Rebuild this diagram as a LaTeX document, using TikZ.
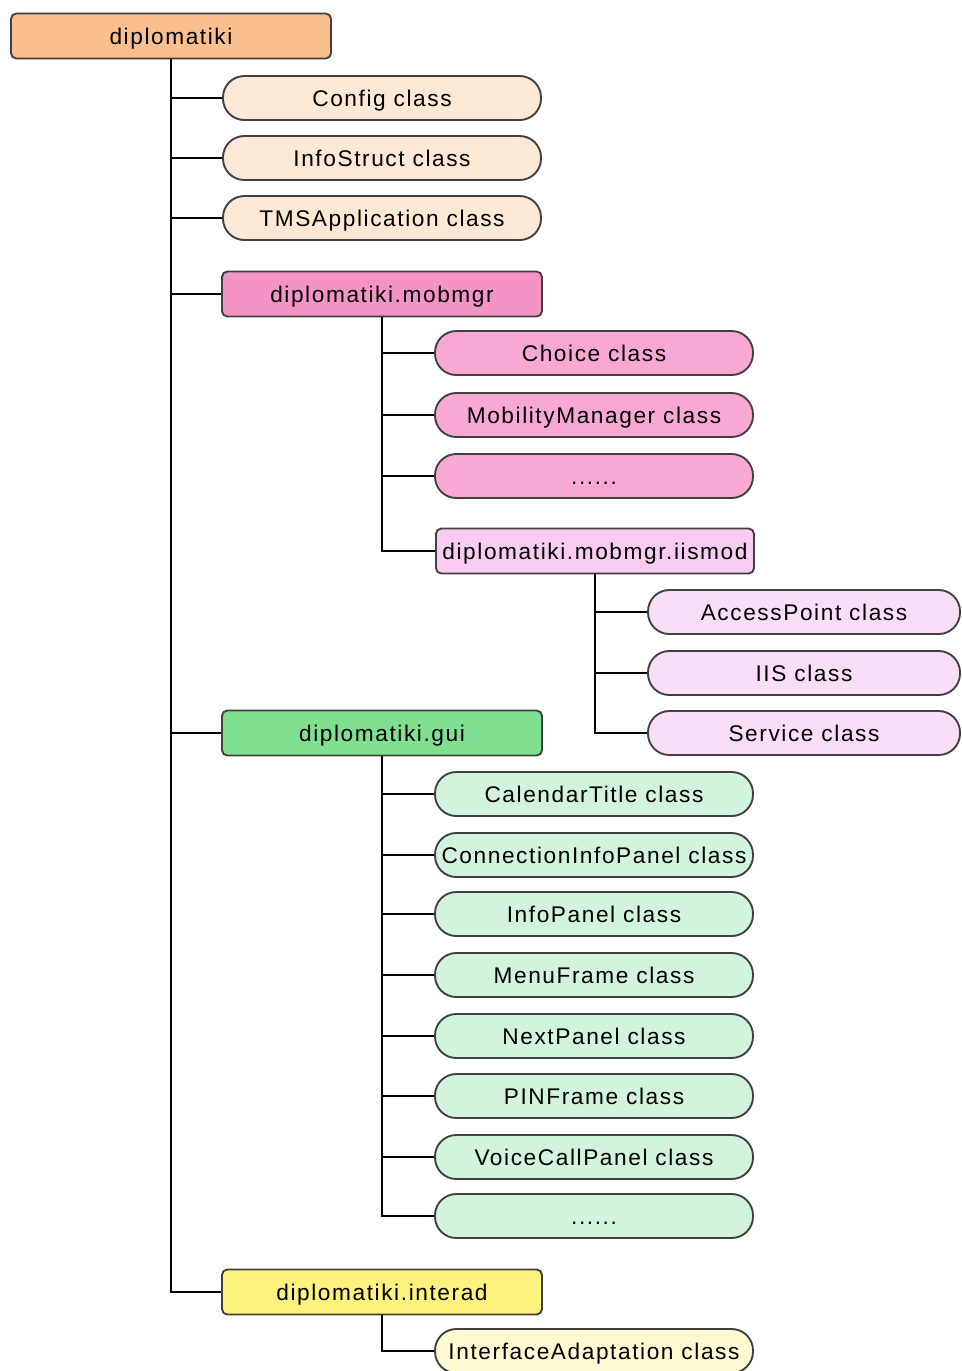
\documentclass[tikz,border=0pt]{standalone}
\usepackage{fontspec}
\setmainfont{Liberation Sans}[LetterSpace=7]
\begin{document}
\begin{tikzpicture}[x=0.75pt,y=-0.75pt,
  every node/.style={font=\fontsize{17}{20}\selectfont, text=black, inner sep=0pt,
    text height=12.2pt, text depth=0pt},
  pkg/.style={draw=black!75, line width=1.4pt, rounded corners=4pt,
    minimum width=240pt, minimum height=33.75pt},
  cls/.style={draw=black!75, line width=1.4pt, rounded corners=16pt,
    minimum width=238.5pt, minimum height=33pt},
  cls3/.style={cls, minimum width=234pt},
  link/.style={draw=black, line width=1.5pt}]
\definecolor{rootc}{HTML}{F9BF8F}
\definecolor{rootk}{HTML}{FDE8D6}
\definecolor{mobc}{HTML}{F494C4}
\definecolor{mobk}{HTML}{F9A8D4}
\definecolor{iisc}{HTML}{F8CCF0}
\definecolor{iisk}{HTML}{FADDF6}
\definecolor{guic}{HTML}{80E090}
\definecolor{guik}{HTML}{D2F4DC}
\definecolor{intc}{HTML}{FDF27D}
\definecolor{intk}{HTML}{FFFAD2}

\useasboundingbox (0,0) rectangle (962,1371);
\fill[white] (0,0) rectangle (962,1371);

% root package and its classes
\node[pkg, fill=rootc] (root) at (171,36) {diplomatiki};
\node[cls, fill=rootk] (config) at (382,98) {Config class};
\node[cls, fill=rootk] (info) at (382,158) {InfoStruct class};
\node[cls, fill=rootk] (tms) at (382,218) {TMSApplication class};

% mobility manager package
\node[pkg, fill=mobc] (mob) at (382,294) {diplomatiki.mobmgr};
\node[cls, fill=mobk] (choice) at (594,353) {Choice class};
\node[cls, fill=mobk] (mobman) at (594,415) {MobilityManager class};
\node[cls, fill=mobk] (mobdots) at (594,476) {......};
\node[pkg, fill=iisc, minimum width=238.5pt] (iis) at (595,551) {diplomatiki.mobmgr.iismod};
\node[cls3, fill=iisk] (access) at (804,612) {AccessPoint class};
\node[cls3, fill=iisk] (iiscls) at (804,673) {IIS class};
\node[cls3, fill=iisk] (service) at (804,733) {Service class};

% gui package
\node[pkg, fill=guic] (gui) at (382,733) {diplomatiki.gui};
\node[cls, fill=guik] (cal) at (594,794) {CalendarTitle class};
\node[cls, fill=guik] (conn) at (594,855) {ConnectionInfoPanel class};
\node[cls, fill=guik] (infop) at (594,914) {InfoPanel class};
\node[cls, fill=guik] (menu) at (594,975) {MenuFrame class};
\node[cls, fill=guik] (next) at (594,1036) {NextPanel class};
\node[cls, fill=guik] (pin) at (594,1096) {PINFrame class};
\node[cls, fill=guik] (voice) at (594,1157) {VoiceCallPanel class};
\node[cls, fill=guik] (guidots) at (594,1216) {......};

% interface adaptation package
\node[pkg, fill=intc] (inter) at (382,1292) {diplomatiki.interad};
\node[cls, fill=intk] (iface) at (594,1351) {InterfaceAdaptation class};

% tree connectors
\foreach \c in {config,info,tms,mob,gui,inter}
  \draw[link] (root.south) |- (\c.west);
\foreach \c in {choice,mobman,mobdots,iis}
  \draw[link] (mob.south) |- (\c.west);
\foreach \c in {access,iiscls,service}
  \draw[link] (iis.south) |- (\c.west);
\foreach \c in {cal,conn,infop,menu,next,pin,voice,guidots}
  \draw[link] (gui.south) |- (\c.west);
\draw[link] (inter.south) |- (iface.west);
\end{tikzpicture}
\end{document}
